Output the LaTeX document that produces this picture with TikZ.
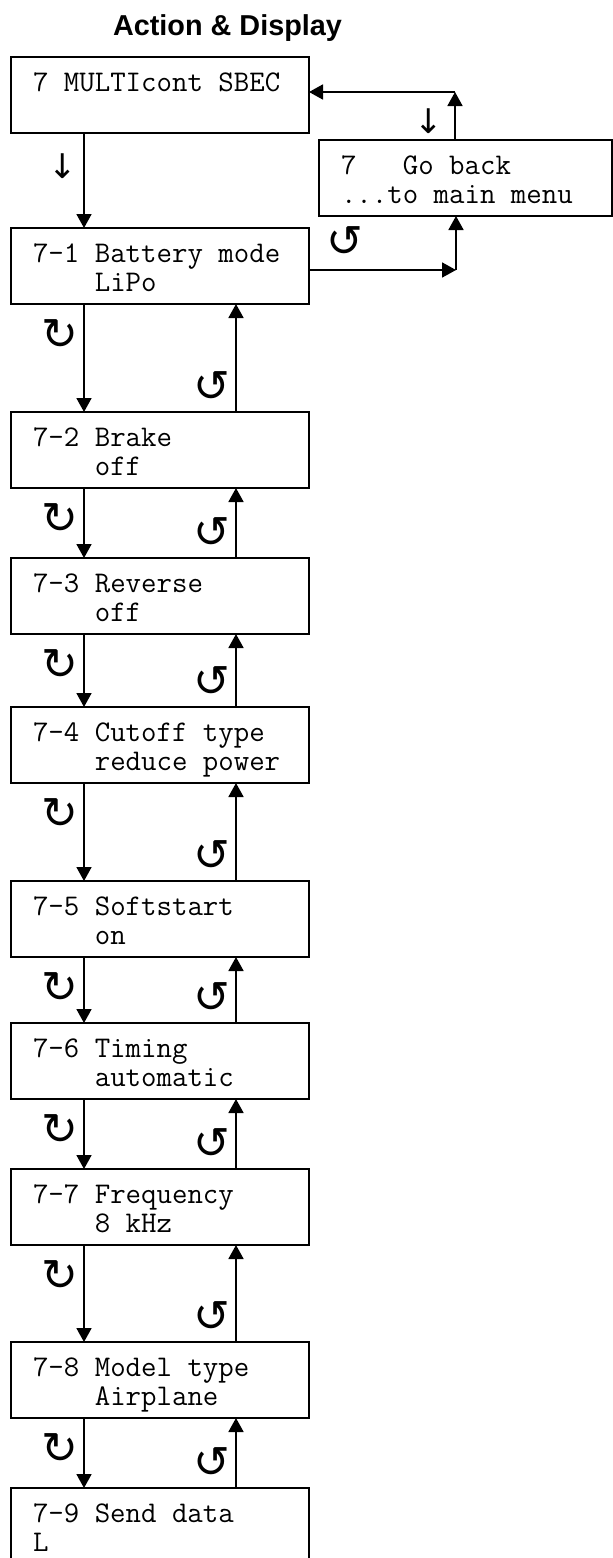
\documentclass[tikz,border=0pt]{standalone}
\usepackage{fontspec}
\setmainfont{Liberation Sans}
\newfontfamily\symfont{DejaVu Sans}
\usepackage{tikz}
\usetikzlibrary{arrows.meta,positioning,calc}

\newcommand{\valind}{\hspace*{4\fontcharwd\font`0}}

\begin{document}
\begin{tikzpicture}[x=0.5pt, y=-0.5pt,
    menubox/.style={rectangle, draw, line width=0.9pt, outer sep=0pt,
                    minimum width=149pt, minimum height=38pt,
                    text width=127pt, inner xsep=11pt, inner ysep=0pt,
                    align=flush left, text height=17pt, text depth=21pt,
                    font=\ttfamily\fontsize{15}{14.5}\selectfont},
    flow/.style={line width=0.9pt, -{Triangle[length=7pt,width=7.5pt]}},
    rotsym/.style={inner sep=0pt, font=\symfont\fontsize{22}{22}\selectfont},
    hintarrow/.style={inner sep=0pt, font=\symfont\fontsize{17}{17}\selectfont},
]
\useasboundingbox (0,0) rectangle (613,1558);

\node[anchor=base, font=\bfseries\fontsize{14.4}{16}\selectfont] (title) at (227.5,35) {Action \& Display};

% menu column
\node[menubox] (b0) at (160,95) {7 MULTIcont SBEC};
\node[menubox, below=47.5pt of b0] (b1) {7-1 Battery mode\\\valind LiPo};
\node[menubox, below=54pt of b1] (b2) {7-2 Brake\\\valind off};
\node[menubox, below=35pt of b2] (b3) {7-3 Reverse\\\valind off};
\node[menubox, below=36.5pt of b3] (b4) {7-4 Cutoff type\\\valind reduce power};
\node[menubox, below=49pt of b4] (b5) {7-5 Softstart\\\valind on};
\node[menubox, below=33pt of b5] (b6) {7-6 Timing\\\valind automatic};
\node[menubox, below=35pt of b6] (b7) {7-7 Frequency\\\valind 8 kHz};
\node[menubox, below=48.5pt of b7] (b8) {7-8 Model type\\\valind Airplane};
\node[menubox, below=35pt of b8] (b9) {7-9 Send data\\L};

% go back box
\node[menubox, minimum width=146.5pt, text width=124.5pt] (back) at (465.5,178)
    {7\hspace*{3\fontcharwd\font`0}Go back\\...to main menu};

\draw[flow] ([xshift=-38pt]b0.south) -- ([xshift=-38pt]b1.north);
\node[hintarrow] (hint0) at (63,166) {↓};

\foreach \a/\b/\i in {b1/b2/1, b2/b3/2, b3/b4/3, b4/b5/4, b5/b6/5, b6/b7/6, b7/b8/7, b8/b9/8}{
  \draw[flow] ([xshift=-38pt]\a.south) -- ([xshift=-38pt]\b.north);
  \draw[flow] ([xshift=38pt]\b.north) -- ([xshift=38pt]\a.south);
  \node[rotsym] (cw\i) at ([xshift=-50pt,yshift=-15.5pt]\a.south) {↻};
  \node[rotsym] (ccw\i) at ([xshift=26pt,yshift=12.5pt]\b.north) {↺};
}

% loop to go back and return
\coordinate (c1) at (456,270);
\coordinate (c2) at (455,92);
\draw[flow] (b1.east |- c1) -- (c1);
\draw[flow] (c1) -- (c1 |- back.south);
\draw[flow] (c2 |- back.north) -- (c2);
\draw[flow] (c2) -- (c2 -| b0.east);
\node[rotsym] (ccw0) at (345,242) {↺};
\node[hintarrow] (hint1) at (429,121) {↓};

\end{tikzpicture}
\end{document}
